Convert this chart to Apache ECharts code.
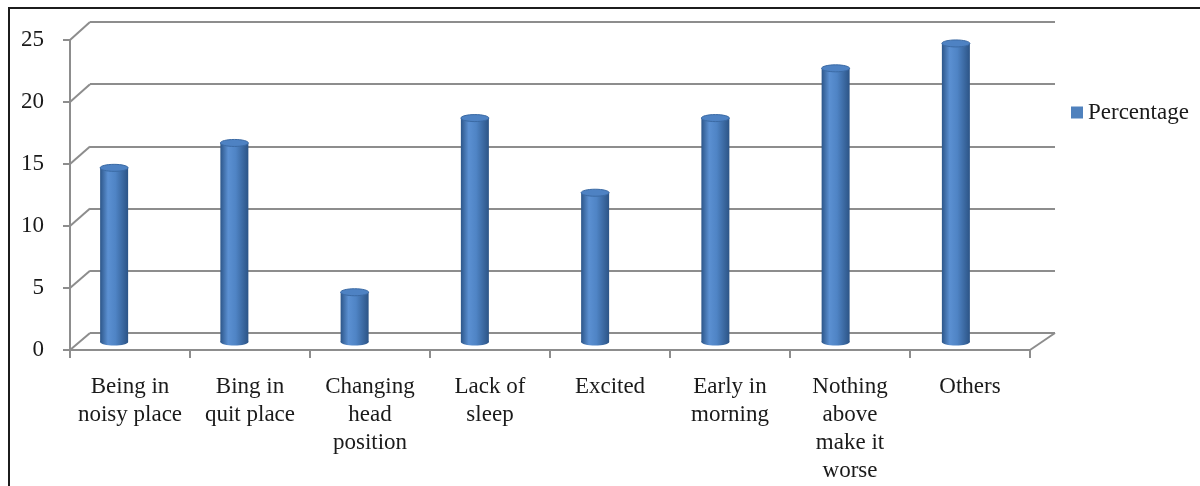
<!DOCTYPE html>
<html>
<head>
<meta charset="utf-8">
<script src="https://cdn.jsdelivr.net/npm/echarts@6/dist/echarts.min.js"></script>
<style>
  html, body { margin: 0; padding: 0; background: #fff; }
  #chart { width: 1200px; height: 486px; }
</style>
</head>
<body>
<div id="chart"></div>
<script>
// Categories along the floor of the chart
const categories = [
  'Being in\nnoisy place',
  'Bing in\nquit place',
  'Changing\nhead\nposition',
  'Lack of\nsleep',
  'Excited',
  'Early in\nmorning',
  'Nothing\nabove\nmake it\nworse',
  'Others'
];
// Percentage per category
const percentage = [14, 16, 4, 18, 12, 18, 22, 24];
// Value-axis range and tick step
const yMin = 0, yMax = 25, yStep = 5;
const yTicks = [0, 5, 10, 15, 20, 25];

const FONT = '"Liberation Serif", "Times New Roman", serif';
const GRID_GRAY = '#8d8d8d';

const chart = echarts.init(document.getElementById('chart'), null, { renderer: 'canvas' });

// Shaded cylinder body
function cylinderFill() {
  return new echarts.graphic.LinearGradient(0, 0, 1, 0, [
    { offset: 0, color: '#2d5689' },
    { offset: 0.28, color: '#5b90d2' },
    { offset: 0.55, color: '#4f84c5' },
    { offset: 1, color: '#2c5486' }
  ]);
}

function renderCylinder(params, api) {
  const idx = api.value(0);
  const v = api.value(1);
  const top = api.coord([idx, v]);
  const base = api.coord([idx, 0]);
  const w = 28, rx = w / 2, ry = 3.5;
  return {
    type: 'group',
    children: [
      { type: 'ellipse', shape: { cx: base[0], cy: base[1], rx: rx, ry: ry },
        style: { fill: cylinderFill() } },
      { type: 'rect', shape: { x: top[0] - rx, y: top[1], width: w, height: base[1] - top[1] },
        style: { fill: cylinderFill() } },
      { type: 'ellipse', shape: { cx: top[0], cy: top[1], rx: rx, ry: ry },
        style: { fill: '#4e82c3', stroke: '#3b6aa4', lineWidth: 1 } }
    ]
  };
}

const option = {
  backgroundColor: '#fff',
  animation: false,
  textStyle: { fontFamily: FONT },
  legend: {
    data: ['Percentage'],
    left: 1071,
    top: 101,
    padding: 0,
    itemWidth: 12,
    itemHeight: 12,
    icon: 'rect',
    textStyle: { fontFamily: FONT, fontSize: 23, color: '#1a1a1a' }
  },
  grid: [
    // front plane: axis lines, ticks, labels
    { left: 70, right: 170, top: 40, bottom: 136 },
    // back wall: gridlines
    { left: 90, right: 145, top: 22, bottom: 153 },
    // middle plane: cylinders
    { left: 54, right: 184, top: 31, bottom: 144 }
  ],
  xAxis: [
    {
      type: 'category', gridIndex: 0, data: categories, boundaryGap: true,
      axisLine: { show: true, lineStyle: { color: GRID_GRAY, width: 2 } },
      axisTick: { show: true, length: 8, lineStyle: { color: GRID_GRAY, width: 2 } },
      axisLabel: { interval: 0, margin: 23, fontFamily: FONT, fontSize: 23, lineHeight: 28, color: '#1a1a1a' },
      splitLine: { show: false }
    },
    {
      type: 'category', gridIndex: 1, data: categories, boundaryGap: true,
      axisLine: { show: false }, axisTick: { show: false }, axisLabel: { show: false },
      splitLine: { show: false }
    },
    {
      type: 'category', gridIndex: 2, data: categories, boundaryGap: true,
      axisLine: { show: false }, axisTick: { show: false }, axisLabel: { show: false },
      splitLine: { show: false }
    }
  ],
  yAxis: [
    {
      type: 'value', gridIndex: 0, min: yMin, max: yMax, interval: yStep,
      axisLine: { show: true, lineStyle: { color: GRID_GRAY, width: 2 } },
      axisTick: { show: true, length: 7, lineStyle: { color: GRID_GRAY, width: 2 } },
      axisLabel: { margin: 26, fontFamily: FONT, fontSize: 23, color: '#1a1a1a' },
      splitLine: { show: false }
    },
    {
      type: 'value', gridIndex: 1, min: yMin, max: yMax, interval: yStep,
      axisLine: { show: false }, axisTick: { show: false }, axisLabel: { show: false },
      splitLine: { show: true, lineStyle: { color: GRID_GRAY, width: 2 } }
    },
    {
      type: 'value', gridIndex: 2, min: yMin, max: yMax, interval: yStep,
      axisLine: { show: false }, axisTick: { show: false }, axisLabel: { show: false },
      splitLine: { show: false }
    }
  ],
  series: [
    {
      name: 'Percentage',
      type: 'custom',
      xAxisIndex: 2,
      yAxisIndex: 2,
      itemStyle: { color: '#4f81bd' },
      renderItem: renderCylinder,
      data: percentage.map((v, i) => [i, v]),
      z: 5
    }
  ]
};

chart.setOption(option);

// Connect the front axis to the back wall at every tick, and close the floor on the right
function edgeX(gridIndex, side) {
  const c0 = chart.convertToPixel({ gridIndex: gridIndex }, [0, 0])[0];
  const c1 = chart.convertToPixel({ gridIndex: gridIndex }, [1, 0])[0];
  const band = c1 - c0;
  return side === 'left' ? c0 - band / 2 : c0 + band * (categories.length - 0.5);
}
const lineStyle = { stroke: GRID_GRAY, lineWidth: 2 };
const elements = [
  {
    type: 'rect', silent: true, z: 100,
    shape: { x: 9, y: 8, width: 1400, height: 800 },
    style: { fill: 'none', stroke: '#1c1c1c', lineWidth: 2 }
  }
];
const fl = edgeX(0, 'left'), bl = edgeX(1, 'left');
yTicks.forEach(function (v) {
  const fy = chart.convertToPixel({ gridIndex: 0 }, [0, v])[1];
  const by = chart.convertToPixel({ gridIndex: 1 }, [0, v])[1];
  elements.push({ type: 'line', silent: true, shape: { x1: fl, y1: fy, x2: bl, y2: by }, style: lineStyle });
});
{
  const fr = edgeX(0, 'right'), br = edgeX(1, 'right');
  const fy = chart.convertToPixel({ gridIndex: 0 }, [0, yMin])[1];
  const by = chart.convertToPixel({ gridIndex: 1 }, [0, yMin])[1];
  elements.push({ type: 'line', silent: true, shape: { x1: fr, y1: fy, x2: br, y2: by }, style: lineStyle });
}
chart.setOption({ graphic: { elements: elements } });
</script>
</body>
</html>
